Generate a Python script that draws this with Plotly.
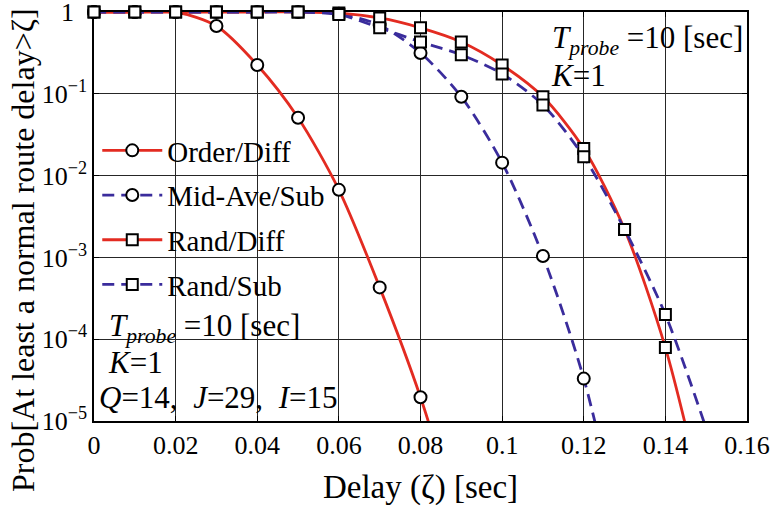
import plotly.graph_objects as go

# ---- data ----
delay_order = [0, 0.01, 0.02, 0.03, 0.04, 0.05, 0.06, 0.07, 0.08, 0.09]
prob_order_diff = [1, 1, 1, 0.675, 0.225, 0.051, 0.0067, 4.3e-4, 1.95e-5, 4.5e-7]

delay_mid = [0, 0.01, 0.02, 0.03, 0.04, 0.05, 0.06, 0.07, 0.08, 0.09, 0.10, 0.11, 0.12, 0.13]
prob_mid_sub = [1, 1, 1, 1, 1, 1, 0.95, 0.69, 0.316, 0.092, 0.0144, 1.04e-3, 3.3e-5, 2.6e-7]

delay_rand = [0, 0.01, 0.02, 0.03, 0.04, 0.05, 0.06, 0.07, 0.08, 0.09, 0.10, 0.11, 0.12, 0.13, 0.14, 0.15]
prob_rand_diff = [1, 1, 1, 1, 1, 1, 0.97, 0.845, 0.64, 0.43, 0.225, 0.092, 0.0214, 2.2e-3, 7.9e-5, 7.6e-7]
prob_rand_sub = [1, 1, 1, 1, 1, 1, 0.93, 0.64, 0.43, 0.30, 0.175, 0.073, 0.017, 2.2e-3, 2.0e-4, 8.1e-6]

x_ticks = [0, 0.02, 0.04, 0.06, 0.08, 0.1, 0.12, 0.14, 0.16]
x_tick_labels = ["0", "0.02", "0.04", "0.06", "0.08", "0.1", "0.12", "0.14", "0.16"]
y_ticks = [1e-5, 1e-4, 1e-3, 1e-2, 1e-1, 1]
y_tick_labels = ["10<sup>−5</sup>", "10<sup>−4</sup>", "10<sup>−3</sup>", "10<sup>−2</sup>",
                 "10<sup>−1</sup>", "1\u00a0\u00a0"]

RED = "#e32b21"
BLUE = "#3a2c9c"
FONT = "Liberation Serif"

series = [
    ("Order/Diff", delay_order, prob_order_diff, RED, "solid", "circle"),
    ("Mid-Ave/Sub", delay_mid, prob_mid_sub, BLUE, "12px,7px", "circle"),
    ("Rand/Diff", delay_rand, prob_rand_diff, RED, "solid", "square"),
    ("Rand/Sub", delay_rand, prob_rand_sub, BLUE, "12px,7px", "square"),
]

fig = go.Figure()
for name, xs, ys, col, dash, sym in series:
    fig.add_trace(go.Scatter(
        x=xs, y=ys, name=name, mode="lines+markers",
        legendgroup=name,
        line=dict(color=col, width=2.8, dash=dash, shape="spline", smoothing=0.8),
        marker=dict(symbol=sym, size=12 if sym == "circle" else 11,
                    color="white", line=dict(color="black", width=2)),
        cliponaxis=False,
    ))

# white masks hiding grid lines behind the text blocks (paper coords)
masks = [
    (0.691, 0.804, 1.0, 1.0),
    (0.0, 0.0, 0.323, 0.707),
    (0.0, 0.0, 0.343, 0.504),
    (0.0, 0.0, 0.386, 0.291),
]
for x0, y0, x1, y1 in masks:
    fig.add_shape(type="rect", xref="paper", yref="paper", x0=x0, y0=y0, x1=x1, y1=y1,
                  fillcolor="white", line=dict(width=0), layer="between")

W, H = 771, 507
PL, PT, PW, PH = 94, 12, 653, 409   # plot area in pixels


def px2paper(px, py):
    return (px - PL) / PW, (PT + PH - py) / PH


tprobe = "<i>T</i><sub><i>probe</i></sub> =10 [sec]"
text_lines = [
    (tprobe, 550, 40),
    ("<i>K</i>=1", 549, 75),
    (tprobe, 107, 328),
    ("<i>K</i>=1", 106, 362),
    ("<i>Q</i>=14,\u00a0 <i>J</i>=29,\u00a0 <i>I</i>=15", 97, 397),
]
for txt, px, py in text_lines:
    xp, yp = px2paper(px, py)
    fig.add_annotation(xref="paper", yref="paper", x=xp, y=yp, xanchor="left", yanchor="middle",
                       text=txt, showarrow=False, align="left",
                       font=dict(family=FONT, size=31, color="black"))

# y-axis title as rotated text
xp, yp = px2paper(23, 250)
fig.add_annotation(xref="paper", yref="paper", x=xp, y=yp, xanchor="center", yanchor="middle",
                   text="Prob[At least a normal route delay>ζ]", textangle=-90, showarrow=False,
                   font=dict(family=FONT, size=32, color="black"))

legend_top = px2paper(0, 125)[1]

fig.update_layout(
    width=W, height=H,
    margin=dict(l=PL, r=W - PL - PW, t=PT, b=H - PT - PH, autoexpand=False),
    paper_bgcolor="white", plot_bgcolor="white",
    font=dict(family=FONT, color="black"),
    showlegend=True,
    legend=dict(x=0.005, y=legend_top, xanchor="left", yanchor="top",
                bgcolor="rgba(0,0,0,0)", font=dict(family=FONT, size=29, color="black"),
                itemwidth=60, tracegroupgap=4, traceorder="grouped"),
    xaxis=dict(range=[0, 0.16], tickvals=x_ticks, ticktext=x_tick_labels,
               showgrid=True, gridcolor="#262626", gridwidth=1.3,
               showline=True, linecolor="black", linewidth=1.6, mirror="ticks",
               ticks="inside", ticklen=5, tickcolor="black", automargin=False,
               ticklabeloverflow="allow",
               tickfont=dict(family=FONT, size=26), zeroline=False,
               layer="below traces",
               title=dict(text="Delay (ζ) [sec]", font=dict(family=FONT, size=33), standoff=16)),
    yaxis=dict(type="log", range=[-5, 0], tickvals=y_ticks, ticktext=y_tick_labels,
               showgrid=True, gridcolor="#262626", gridwidth=1.3,
               showline=True, linecolor="black", linewidth=1.6, mirror="ticks",
               ticks="inside", ticklen=5, tickcolor="black", automargin=False,
               ticklabeloverflow="allow",
               tickfont=dict(family=FONT, size=26), zeroline=False,
               layer="below traces"),
)

# remove the default 8px page margin so the figure sits at the window origin
fig.write_html("out.html", config={"displayModeBar": False},
               post_script="document.body.style.margin='0';")
